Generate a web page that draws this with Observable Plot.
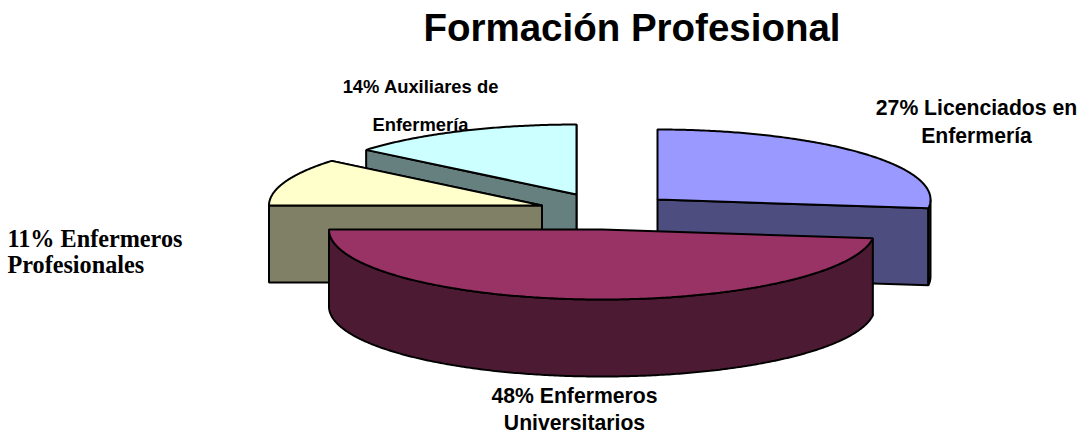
<!DOCTYPE html>
<html lang="es">
<head>
<meta charset="utf-8">
<script src="https://cdn.jsdelivr.net/npm/d3@7"></script>
<script src="https://cdn.jsdelivr.net/npm/@observablehq/plot@0.6"></script>
<style>
  html, body { margin: 0; padding: 0; background: #fff; }
  #title { padding-left: 185px; width: 894px; text-align: center;
           font: bold 38.5px/1 "Liberation Sans", Arial, sans-serif; color: #000; padding-top: 9px; height: 41px; white-space: nowrap; }
  svg { display: block; }
</style>
</head>
<body>
<div id="title">Formación Profesional</div>
<div id="chart"></div>
<script>
const titleHeight = 50;
const categories = ["Licenciados en Enfermería", "Enfermeros Universitarios", "Enfermeros Profesionales", "Auxiliares de Enfermería"];
const shares = [27, 48, 11, 14];
const topColors = ["#9999FF", "#993366", "#FFFFCC", "#CCFFFF"];
const wallColors = ["#4D4D80", "#4D1A33", "#808066", "#668080"];
// Exploded centre of each slice on the canvas
const centerX = [657, 601.5, 541.5, 576];
const centerY = [199, 229, 205, 194];
const radiusX = 273, radiusY = 70, depth = 77;
const drawOrder = [3, 2, 0, 1];

const labelLines = [
  {text: "14% Auxiliares de", x: 420, y: 87, font: "sans", size: 18.4},
  {text: "Enfermería", x: 420, y: 125, font: "sans", size: 18.4},
  {text: "27% Licenciados en", x: 976, y: 108, font: "sans", size: 21.2},
  {text: "Enfermería", x: 976, y: 136, font: "sans", size: 21.2},
  {text: "11% Enfermeros", x: 7, y: 239, font: "serif", size: 24.2, anchor: "start"},
  {text: "Profesionales", x: 7, y: 265, font: "serif", size: 24.2, anchor: "start"},
  {text: "48% Enfermeros", x: 574, y: 396, font: "sans", size: 21.2},
  {text: "Universitarios", x: 574, y: 423, font: "sans", size: 21.2}
];

const pie = d3.pie().sort(null).value(d => d)(shares);
const point = (i, a, dz = 0) => ({
  x: centerX[i] + radiusX * Math.sin(a),
  y: centerY[i] - radiusY * Math.cos(a) + dz
});
const arc = (i, a0, a1, dz = 0) => {
  const n = Math.max(2, Math.ceil((a1 - a0) / 0.01));
  return d3.range(n + 1).map(k => point(i, a0 + (a1 - a0) * k / n, dz));
};
const apex = (i, dz = 0) => ({x: centerX[i], y: centerY[i] + dz});

const face = (pts, fill) => Plot.line(pts, {
  x: "x", y: "y", fill, stroke: "#000", strokeWidth: 2,
  curve: "linear-closed", strokeLinejoin: "miter"
});

const marks = [];
for (const i of drawOrder) {
  const {startAngle: a0, endAngle: a1} = pie[i];
  const wall = wallColors[i];
  // Radial walls that face the viewer
  if (Math.sin(a1) > 0 || Math.sin(a1) < 0 && Math.cos(a1) > 0) {
    marks.push(face([point(i, a1), apex(i), apex(i, depth), point(i, a1, depth)], wall));
  }
  if (Math.sin(a0) < 0) {
    marks.push(face([point(i, a0), apex(i), apex(i, depth), point(i, a0, depth)], wall));
  }
  // Curved outer wall, only the part on the viewer's side
  const w0 = Math.max(a0, Math.PI / 2), w1 = Math.min(a1, 3 * Math.PI / 2);
  if (w1 > w0) {
    const upper = arc(i, w0, w1);
    const lower = arc(i, w0, w1, depth).reverse();
    marks.push(face([...upper, ...lower], wall));
  }
  // Top face
  marks.push(face([apex(i), ...arc(i, a0, a1)], topColors[i]));
}
for (const font of ["sans", "serif"]) {
  for (const size of new Set(labelLines.filter(d => d.font === font).map(d => d.size))) {
    const lines = labelLines.filter(d => d.font === font && d.size === size);
    marks.push(Plot.text(lines, {
      x: "x", y: "y", text: "text",
      textAnchor: lines[0].anchor || "middle",
      fontFamily: font === "sans" ? "Liberation Sans, Arial, sans-serif" : "Liberation Serif, Times New Roman, serif",
      fontWeight: "bold", fontSize: size, fill: "#000"
    }));
  }
}

const plot = Plot.plot({
  width: 1079, height: 434 - titleHeight,
  marginTop: 0, marginRight: 0, marginBottom: 0, marginLeft: 0,
  x: {type: "linear", domain: [0, 1079], range: [0, 1079], axis: null},
  y: {type: "linear", domain: [titleHeight, 434], range: [0, 434 - titleHeight], axis: null},
  style: {background: "#fff", overflow: "visible"},
  marks
});
document.getElementById("chart").append(plot);
</script>
</body>
</html>
